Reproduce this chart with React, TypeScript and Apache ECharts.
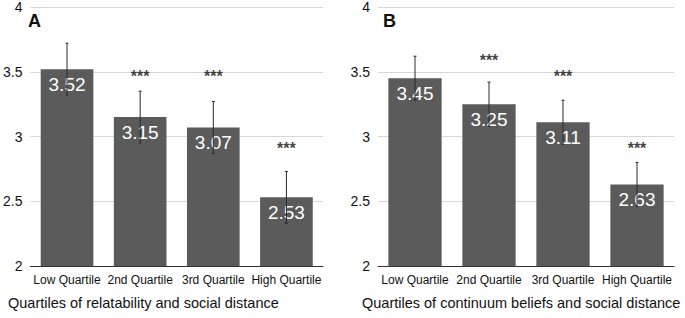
import React, { useEffect, useRef } from "react";
import * as echarts from "echarts";

const categories = ["Low Quartile", "2nd Quartile", "3rd Quartile", "High Quartile"];
const meansA = [3.52, 3.15, 3.07, 2.53];
const errA = [0.2, 0.2, 0.2, 0.2];
const starsA: (number | null)[] = [null, 3.46, 3.46, 2.91];
const meansB = [3.45, 3.25, 3.11, 2.63];
const errB = [0.17, 0.17, 0.17, 0.17];
const starsB: (number | null)[] = [null, 3.59, 3.46, 2.91];
const starText = "***";
const titleA = "Quartiles of relatability and social distance";
const titleB = "Quartiles of continuum beliefs and social distance";
const yTicks = { min: 2, max: 4, interval: 0.5 };

const FONT = "Liberation Sans, Arial, Helvetica, sans-serif";
const BAR = "#5b5b5b";

function errRender(params: any, api: any) {
  const x = api.value(0);
  const lo = api.coord([x, api.value(1)]);
  const hi = api.coord([x, api.value(2)]);
  const st = { stroke: "#2a2a2a", lineWidth: 1 };
  return {
    type: "group",
    children: [
      { type: "line", shape: { x1: hi[0], y1: hi[1], x2: lo[0], y2: lo[1] }, style: st },
      { type: "line", shape: { x1: hi[0] - 1.5, y1: hi[1], x2: hi[0] + 1.5, y2: hi[1] }, style: st },
      { type: "line", shape: { x1: lo[0] - 1.5, y1: lo[1], x2: lo[0] + 1.5, y2: lo[1] }, style: st },
    ],
  };
}

function panelSeries(idx: number, means: number[], errs: number[], stars: (number | null)[]) {
  return [
    {
      type: "bar",
      xAxisIndex: idx,
      yAxisIndex: idx,
      data: means,
      barWidth: "72%",
      itemStyle: { color: BAR },
      label: {
        show: true,
        position: "insideTop",
        distance: 6,
        color: "#fff",
        fontSize: 19,
        fontFamily: FONT,
        formatter: (p: any) => p.value.toFixed(2),
      },
      z: 2,
    },
    {
      type: "custom",
      xAxisIndex: idx,
      yAxisIndex: idx,
      renderItem: errRender,
      encode: { x: 0, y: [1, 2] },
      data: means.map((m, i) => [i, m - errs[i], m + errs[i]]),
      z: 5,
    },
    {
      type: "scatter",
      xAxisIndex: idx,
      yAxisIndex: idx,
      symbolSize: 0,
      data: stars.map((s, i) => (s == null ? null : [i, s])).filter((d) => d != null),
      label: {
        show: true,
        position: "inside",
        formatter: starText,
        color: "#111",
        fontSize: 16,
        fontWeight: "bold",
        fontFamily: FONT,
      },
      z: 6,
    },
  ];
}

function xAxisDef(idx: number) {
  return {
    type: "category",
    gridIndex: idx,
    data: categories,
    axisTick: { show: false },
    axisLine: { lineStyle: { color: "#333", width: 1 } },
    axisLabel: { color: "#111", fontSize: 12, fontFamily: FONT, margin: 8, interval: 0 },
  };
}

function yAxisDef(idx: number) {
  return {
    type: "value",
    gridIndex: idx,
    min: yTicks.min,
    max: yTicks.max,
    interval: yTicks.interval,
    axisLine: { show: false },
    axisTick: { show: false },
    splitLine: { lineStyle: { color: "#d6d6d6", width: 1 } },
    axisLabel: { color: "#111", fontSize: 14, fontFamily: FONT, margin: 8, formatter: (v: number) => String(v) },
  };
}

export default function App() {
  const ref = useRef<HTMLDivElement>(null);
  useEffect(() => {
    if (!ref.current) return;
    const chart = echarts.init(ref.current, null, { renderer: "svg" });
    chart.setOption({
      animation: false,
      backgroundColor: "#fff",
      grid: [
        { left: 28, right: 362, top: 4, bottom: 52 },
        { left: 378, right: 11, top: 4, bottom: 52 },
      ],
      xAxis: [xAxisDef(0), xAxisDef(1)],
      yAxis: [yAxisDef(0), yAxisDef(1)],
      series: [...panelSeries(0, meansA, errA, starsA), ...panelSeries(1, meansB, errB, starsB)],
      graphic: [
        { type: "text", left: 28, top: 12, style: { text: "A", fontSize: 18, fontWeight: "bold", fill: "#111", fontFamily: FONT } },
        { type: "text", left: 383, top: 12, style: { text: "B", fontSize: 18, fontWeight: "bold", fill: "#111", fontFamily: FONT } },
        { type: "text", left: 8, top: 295, style: { text: titleA, fontSize: 14.5, fill: "#111", fontFamily: FONT } },
        { type: "text", left: 362, top: 295, style: { text: titleB, fontSize: 14.5, fill: "#111", fontFamily: FONT } },
      ],
    });
    return () => chart.dispose();
  }, []);
  return <div ref={ref} style={{ width: 685, height: 318, position: "absolute", left: 0, top: 0 }} />;
}
